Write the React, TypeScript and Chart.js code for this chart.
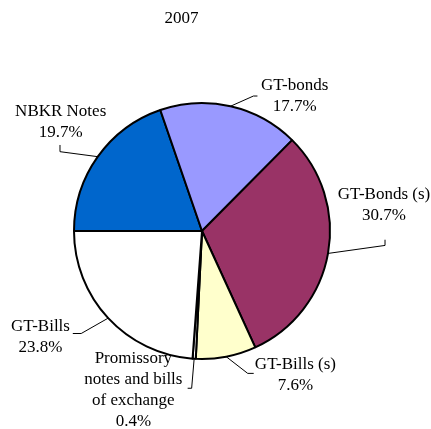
import React, { useEffect, useRef } from "react";
import { Chart, registerables } from "chart.js";

Chart.register(...registerables);

const TITLE = "2007";
const categories = [
  ["NBKR Notes"],
  ["GT-bonds"],
  ["GT-Bonds (s)"],
  ["GT-Bills (s)"],
  ["Promissory", "notes and bills", "of exchange"],
  ["GT-Bills"],
];
const shares = [19.7, 17.7, 30.7, 7.6, 0.4, 23.8];
const sliceColors = ["#0066CC", "#9999FF", "#993366", "#FFFFCC", "#FFFFFF", "#FFFFFF"];

// label layout: text offset (first baseline centre) and leader elbow points, relative to slice anchor
const labelLayout = [
  { tx: -37.1, ty: -41, leader: [[-37.8, -5], [-37.8, -11.7]] },
  { tx: 64.1, ty: -16.2, leader: [[22.9, -10.2], [26.9, -10.2]] },
  { tx: 56, ty: -54.7, leader: [[57, -8], [57, -13.7]] },
  { tx: 69.2, ty: 12.7, leader: [[21.5, 16.7], [27.5, 16.7]] },
  { tx: -60.8, ty: 4.5, leader: [[-2.5, 29.5], [-6.5, 29.5]] },
  { tx: -67.7, ty: 12.4, leader: [[-27, 15.4], [-35.4, 15.4]] },
];

const FONT = '17px "Liberation Serif", "Times New Roman", serif';
const LINE_H = 21;

const labelPlugin = {
  id: "pieLabels",
  afterDraw(chart: any) {
    const ctx = chart.ctx;
    const meta = chart.getDatasetMeta(0);
    ctx.save();
    ctx.font = FONT;
    ctx.fillStyle = "#000";
    ctx.textAlign = "center";
    ctx.textBaseline = "alphabetic";
    ctx.fillText(TITLE, 181.5, 23);
    meta.data.forEach((arc: any, i: number) => {
      const { x, y, startAngle, endAngle, outerRadius } = arc.getProps(
        ["x", "y", "startAngle", "endAngle", "outerRadius"],
        true
      );
      const mid = (startAngle + endAngle) / 2;
      const ax = x + Math.cos(mid) * outerRadius;
      const ay = y + Math.sin(mid) * outerRadius;
      const lay = labelLayout[i];
      ctx.beginPath();
      ctx.strokeStyle = "#000";
      ctx.lineWidth = 1;
      ctx.moveTo(ax, ay);
      lay.leader.forEach((p) => ctx.lineTo(ax + p[0], ay + p[1]));
      ctx.stroke();
      const lines = [...categories[i], shares[i].toFixed(1) + "%"];
      lines.forEach((t, k) => {
        ctx.fillText(t, ax + lay.tx, ay + lay.ty + k * LINE_H);
      });
    });
    ctx.restore();
  },
};

export default function App() {
  const ref = useRef<HTMLCanvasElement>(null);
  useEffect(() => {
    if (!ref.current) return;
    const chart = new Chart(ref.current, {
      type: "pie",
      data: {
        labels: categories.map((c) => c.join(" ")),
        datasets: [
          {
            data: shares,
            backgroundColor: sliceColors,
            borderColor: "#000",
            borderWidth: 2,
          },
        ],
      },
      options: {
        responsive: false,
        animation: false,
        rotation: -90,
        radius: 128,
        layout: { padding: { left: 74, right: 101, top: 103, bottom: 70 } },
        plugins: {
          legend: { display: false },
          title: { display: false },
          tooltip: { enabled: false },
        },
      },
      plugins: [labelPlugin],
    });
    return () => chart.destroy();
  }, []);
  return (
    <div style={{ position: "fixed", left: 0, top: 0, width: 431, height: 429, background: "#fff" }}>
      <canvas ref={ref} width={431} height={429} style={{ width: 431, height: 429 }} />
    </div>
  );
}
